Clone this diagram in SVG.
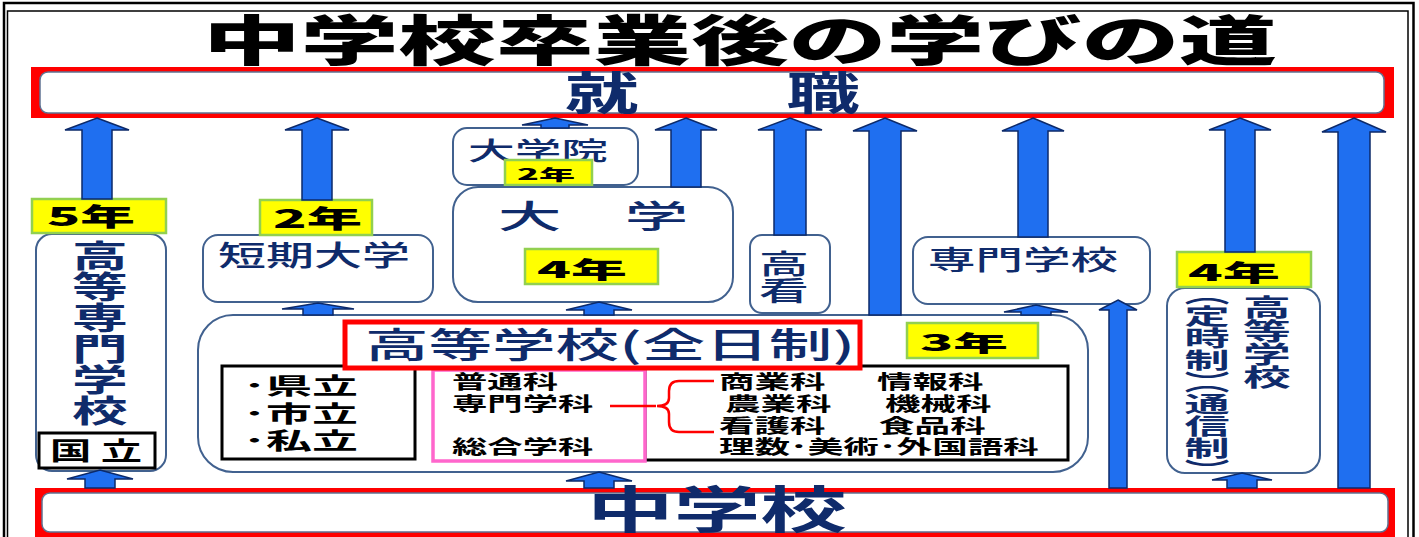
<svg xmlns="http://www.w3.org/2000/svg" width="1419" height="537" viewBox="0 0 1419 537">
<defs>
<style>
text { font-family: "Noto Sans CJK JP", "Noto Sans", sans-serif; }
.title { font-size:54px; font-weight:900; fill:#000; }
.bt { font-weight:700; fill:#0f2b6b; }
.m { font-weight:500; fill:#0f2b6b; }
.g { font-weight:700; fill:#0f2b6b; }
.vt { writing-mode: vertical-rl; }
.yr { font-weight:900; fill:#000; }
.k { font-weight:700; fill:#000; }
.box { fill:#fff; stroke:#41618f; stroke-width:2; }
.lab { fill:#ffff00; stroke:#92d050; stroke-width:2.5; }
.arrow { fill:#1f6ff0; stroke:#0c2a6a; stroke-width:1.5; }
.blk { fill:#fff; stroke:#000; stroke-width:3; }
.redbox { fill:#fff; stroke:#ff0000; stroke-width:5; }
.inner { fill:#fff; stroke:#5f7393; stroke-width:1.5; }
</style>
</defs>
<rect x="0" y="0" width="1419" height="537" fill="#fff"/>
<g id="frame" fill="none" stroke="#000">
<rect x="4" y="3" width="1409.5" height="560" stroke-width="2.5"/>
<rect x="7.5" y="11" width="1400.5" height="560" stroke-width="1.5"/>
</g>
<g id="title">
<text class="title" x="203" y="61" textLength="1074" lengthAdjust="spacingAndGlyphs">中学校卒業後の学びの道</text>
</g>
<g id="employment">
<rect x="31" y="67" width="1363" height="51" fill="#ff0000"/>
<rect class="inner" x="40" y="72" width="1344" height="41" rx="8"/>
<text class="bt" style="font-size:45px" x="565" y="110" textLength="295" lengthAdjust="spacingAndGlyphs">就　　職</text>
</g>
<g id="junior-high">
<rect x="35" y="488" width="1360" height="60" fill="#ff0000"/>
<rect class="inner" x="42" y="493" width="1346" height="39" rx="8"/>
<text class="bt" style="font-size:50px" x="587" y="528" textLength="260" lengthAdjust="spacingAndGlyphs">中学校</text>
</g>
<g id="kosen">
<rect class="box" x="36" y="234" width="130" height="237" rx="16"/>
<text class="g vt" style="font-size:31px" transform="translate(100,240) scale(1.8,1)" x="0" y="0">高等専門学校</text>
<rect class="blk" x="39" y="433" width="116" height="35"/>
<text class="k" style="font-size:25px" x="50" y="460" textLength="92" lengthAdjust="spacingAndGlyphs">国 立</text>
<rect class="lab" x="32" y="199" width="134" height="34"/>
<text class="yr" style="font-size:25px" x="47" y="226" textLength="88" lengthAdjust="spacingAndGlyphs">5年</text>
</g>
<g id="junior-college">
<rect class="box" x="203" y="235" width="230" height="67" rx="15"/>
<text class="m" style="font-size:28px" x="218" y="266" textLength="192" lengthAdjust="spacingAndGlyphs">短期大学</text>
<rect class="lab" x="260" y="200" width="112" height="35"/>
<text class="yr" style="font-size:25px" x="273" y="228" textLength="89" lengthAdjust="spacingAndGlyphs">2年</text>
</g>
<g id="graduate-school">
<rect class="box" x="453" y="128" width="185" height="57" rx="14"/>
<text class="m" style="font-size:25px" x="468" y="160" textLength="140" lengthAdjust="spacingAndGlyphs">大学院</text>
<rect class="lab" x="505" y="160" width="87" height="25"/>
<text class="yr" style="font-size:15px" x="517" y="180" textLength="58" lengthAdjust="spacingAndGlyphs">2年</text>
</g>
<g id="university">
<rect class="box" x="453" y="187" width="280" height="115" rx="25"/>
<text class="m" style="font-size:32px" x="498" y="228" textLength="190" lengthAdjust="spacingAndGlyphs">大　学</text>
<rect class="lab" x="525" y="249" width="133" height="35"/>
<text class="yr" style="font-size:23px" x="537" y="278" textLength="90" lengthAdjust="spacingAndGlyphs">4年</text>
</g>
<g id="koukan">
<rect class="box" x="750" y="235" width="80" height="78" rx="12"/>
<text class="m vt" style="font-size:27px" transform="translate(784,250) scale(1.85,1)" x="0" y="0">高看</text>
</g>
<g id="vocational-school">
<rect class="box" x="913" y="237" width="237" height="67" rx="15"/>
<text class="m" style="font-size:27px" x="928" y="270" textLength="190" lengthAdjust="spacingAndGlyphs">専門学校</text>
</g>
<g id="high-school">
<rect class="box" x="198" y="315" width="890" height="157" rx="35"/>
<rect class="blk" x="222" y="366" width="193" height="93"/>
<text class="k" style="font-size:23px" transform="scale(2,1)"><tspan x="121.5" y="394">･県立</tspan><tspan x="121.5" y="422">･市立</tspan><tspan x="121.5" y="449">･私立</tspan></text>
<rect class="blk" x="645" y="366" width="423" height="94"/>
<rect x="433" y="370" width="212" height="91" fill="#fff" stroke="#ff66cc" stroke-width="3.5"/>
<text class="k" style="font-size:19px" transform="scale(1.86,1)"><tspan x="243" y="389">普通科</tspan><tspan x="243" y="411">専門学科</tspan><tspan x="243" y="454">総合学科</tspan></text>
<path d="M610,406 L656,406 M714,381 L679,381 Q669,381 669,391 L669,398 Q669,406 657,406 Q669,406 669,414 L669,422 Q669,432 679,432 L714,432" fill="none" stroke="#ff0000" stroke-width="2.5"/>
<text class="k" style="font-size:19px" transform="scale(1.87,1)"><tspan x="384.5" y="389">商業科</tspan><tspan x="469" y="389">情報科</tspan><tspan x="387.7" y="411">農業科</tspan><tspan x="473.3" y="411">機械科</tspan><tspan x="384.5" y="433">看護科</tspan><tspan x="470.1" y="433">食品科</tspan><tspan x="384.5" y="454">理数･美術･外国語科</tspan></text>
<rect class="redbox" x="345" y="322" width="515" height="46"/>
<text class="m" style="font-size:35px" x="365" y="358" textLength="490" lengthAdjust="spacingAndGlyphs">高等学校(全日制)</text>
<rect class="lab" x="907" y="323" width="131" height="35"/>
<text class="yr" style="font-size:22px" x="920" y="351" textLength="88" lengthAdjust="spacingAndGlyphs">3年</text>
</g>
<g id="part-time-high-school">
<rect class="box" x="1167" y="288" width="153" height="185" rx="18"/>
<text class="g vt" style="font-size:23.3px" transform="translate(1267,296) scale(2.05,1)" x="0" y="0">高等学校</text>
<text class="g vt" style="font-size:22px;font-feature-settings:'vhal' 1" transform="translate(1207,294) scale(2.05,1)" x="0" y="0">（定時制）（通信制）</text>
<rect class="lab" x="1177" y="252" width="134" height="35"/>
<text class="yr" style="font-size:23px" x="1188" y="281" textLength="92" lengthAdjust="spacingAndGlyphs">4年</text>
</g>
<g id="connectors">
<polygon class="arrow" points="97,118 129,130 112,130 112,199 82,199 82,130 65,130"/>
<polygon class="arrow" points="317,118 349,130 332,130 332,200 302,200 302,130 285,130"/>
<polygon class="arrow" points="555,118 588,125 569,125 569,128 541,128 541,125 522,125"/>
<polygon class="arrow" points="686,118 717,130 701,130 701,187 671,187 671,130 655,130"/>
<polygon class="arrow" points="790,118 822,130 806,130 806,235 774,235 774,130 758,130"/>
<polygon class="arrow" points="885,118 917,131 901,131 901,315 869,315 869,131 853,131"/>
<polygon class="arrow" points="1033,118 1064,131 1048,131 1048,237 1018,237 1018,131 1002,131"/>
<polygon class="arrow" points="1240,118 1271,130 1255,130 1255,252 1225,252 1225,130 1209,130"/>
<polygon class="arrow" points="1354,118 1386,132 1370,132 1370,488 1338,488 1338,132 1322,132"/>
<polygon class="arrow" points="318,303 354,309 333,309 333,315 303,315 303,309 282,309"/>
<polygon class="arrow" points="599,302 632,310 614,310 614,315 584,315 584,310 566,310"/>
<polygon class="arrow" points="1036,305 1068,312 1051,312 1051,315 1021,315 1021,312 1004,312"/>
<polygon class="arrow" points="1118,300 1137,310 1127,310 1127,488 1109,488 1109,310 1099,310"/>
<polygon class="arrow" points="100,470 133,479 115,479 115,488 85,488 85,479 67,479"/>
<polygon class="arrow" points="599,472 632,481 614,481 614,488 584,488 584,481 566,481"/>
<polygon class="arrow" points="1242,473 1272,480 1257,480 1257,488 1227,488 1227,480 1212,480"/>
</g>
</svg>
